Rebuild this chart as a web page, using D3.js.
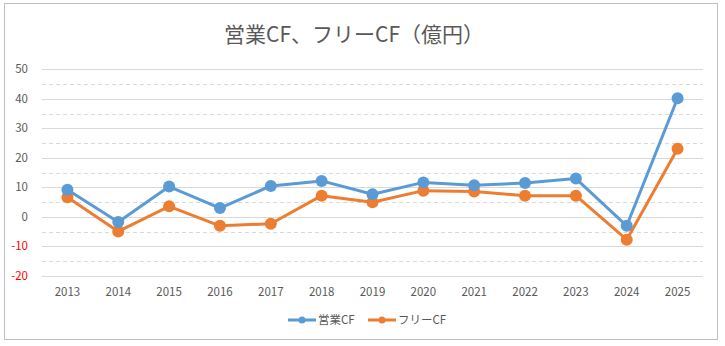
<!DOCTYPE html>
<html><head><meta charset="utf-8">
<script src="https://cdn.jsdelivr.net/npm/d3@7"></script>
<style>body{margin:0;background:#fff}svg{display:block}</style>
</head><body>
<svg id="c" width="725" height="346"></svg>
<script>
const years = ["2013","2014","2015","2016","2017","2018","2019","2020","2021","2022","2023","2024","2025"];
const opCF   = [9.2,-1.7,10.3,3.0,10.5,12.2,7.7,11.7,10.7,11.5,13.0,-3.0,40.2];
const freeCF = [6.7,-4.9,3.6,-3.0,-2.3,7.2,5.0,8.9,8.6,7.2,7.2,-7.7,23.1];
const majorTicks = [-20,-10,0,10,20,30,40,50];
const minorTicks = [-15,-5,5,15,25,35,45];
const seriesNames = ["営業CF","フリーCF"];
const colors = ["#5b9bd5","#ed7d31"];
const title = "営業CF、フリーCF（億円）";

const svg = d3.select("#c");
const font = "'Noto Sans CJK JP','Noto Sans',sans-serif";
svg.append("rect").attr("x",4.5).attr("y",3.5).attr("width",713).attr("height",336)
  .attr("fill","#fff").attr("stroke","#bfbfbf").attr("stroke-width",1);

const x = d3.scaleBand().domain(years).range([42,703]);
const y = d3.scaleLinear().domain([-20,50]).range([276,69.3]);

const g = svg.append("g");
g.selectAll("line.minor").data(minorTicks).join("line")
  .attr("x1",42).attr("x2",703).attr("y1",d=>Math.round(y(d))+0.5).attr("y2",d=>Math.round(y(d))+0.5)
  .attr("stroke","#d9d9d9").attr("stroke-dasharray","4,3");
g.selectAll("line.major").data(majorTicks).join("line")
  .attr("x1",42).attr("x2",703).attr("y1",d=>Math.round(y(d))+0.5).attr("y2",d=>Math.round(y(d))+0.5)
  .attr("stroke","#d9d9d9");

g.selectAll("text.yt").data(majorTicks).join("text")
  .attr("x",28).attr("y",d=>y(d)).attr("dy","0.35em").attr("text-anchor","end")
  .attr("font-family",font).attr("font-size",11.5)
  .attr("fill",d=>d<0?"#ff0000":"#595959").text(d=>d);

g.selectAll("text.xt").data(years).join("text")
  .attr("x",d=>x(d)+x.bandwidth()/2).attr("y",296).attr("text-anchor","middle")
  .attr("font-family",font).attr("font-size",11.5).attr("fill","#595959").text(d=>d);

const series = [opCF, freeCF];
const line = d3.line().x((d,i)=>x(years[i])+x.bandwidth()/2).y(d=>y(d));
[1,0].forEach(k=>{
  const s = series[k];
  svg.append("path").attr("d",line(s)).attr("fill","none").attr("stroke",colors[k])
    .attr("stroke-width",3).attr("stroke-linejoin","round").attr("stroke-linecap","round");
  svg.selectAll(null).data(s).join("circle")
    .attr("cx",(d,i)=>x(years[i])+x.bandwidth()/2).attr("cy",d=>y(d)).attr("r",6)
    .attr("fill",colors[k]);
});

svg.append("text").attr("x",354).attr("y",42).attr("text-anchor","middle")
  .attr("font-family",font).attr("font-size",21).attr("fill","#595959").text(title);

const legX = [288,368];
seriesNames.forEach((n,i)=>{
  const lg = svg.append("g");
  lg.append("line").attr("x1",legX[i]).attr("x2",legX[i]+28).attr("y1",320).attr("y2",320)
    .attr("stroke",colors[i]).attr("stroke-width",3);
  lg.append("circle").attr("cx",legX[i]+14).attr("cy",320).attr("r",3.5).attr("fill",colors[i]);
  lg.append("text").attr("x",legX[i]+30).attr("y",320).attr("dy","0.35em")
    .attr("font-family",font).attr("font-size",11.5).attr("fill","#595959").text(n);
});
</script>
</body></html>
